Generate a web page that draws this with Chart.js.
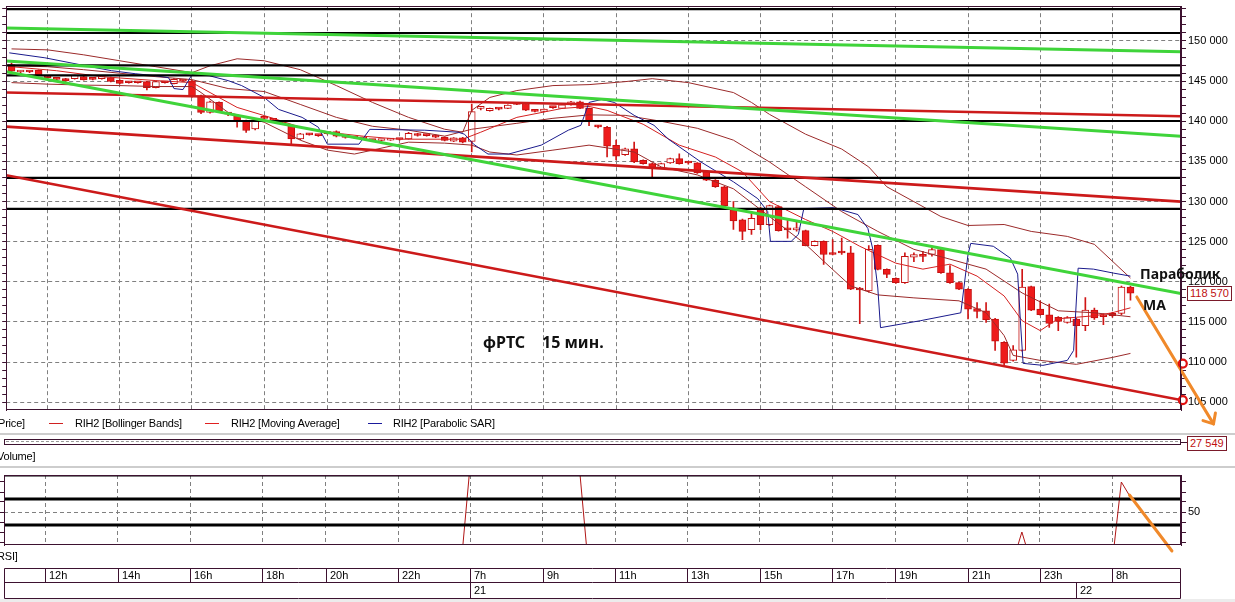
<!DOCTYPE html>
<html><head><meta charset="utf-8">
<script src="https://cdn.jsdelivr.net/npm/chart.js@4.4.1/dist/chart.umd.min.js"></script>
<style>
html,body{margin:0;padding:0;background:#fff;width:1235px;height:602px;overflow:hidden;position:relative;font-family:"Liberation Sans",Arial,sans-serif;}
.abs{position:absolute;white-space:nowrap;}
.t11{font-size:11px;line-height:14px;color:#000;letter-spacing:-0.2px;}
.ann{font-family:"Noto Sans",sans-serif;font-weight:bold;color:#111;line-height:18px;}
</style></head><body>
<canvas id="main" width="1235" height="440" style="position:absolute;left:0;top:0"></canvas>

<div class="abs t11" style="left:-2px;top:416px">Price]</div>
<div class="abs" style="left:49px;top:423px;width:14px;height:1px;background:#d02020"></div>
<div class="abs t11" style="left:75px;top:416px">RIH2 [Bollinger Bands]</div>
<div class="abs" style="left:205px;top:423px;width:14px;height:1px;background:#e02020"></div>
<div class="abs t11" style="left:231px;top:416px">RIH2 [Moving Average]</div>
<div class="abs" style="left:368px;top:423px;width:14px;height:1px;background:#1a1a9c"></div>
<div class="abs t11" style="left:393px;top:416px">RIH2 [Parabolic SAR]</div>
<div class="abs" style="left:0;top:433px;width:1235px;height:2px;background:#cdcdcd"></div>

<div class="abs" style="left:4px;top:439px;width:1175px;height:4px;border:1px solid #3d1230;"></div>
<div class="abs" style="left:6px;top:441px;width:1172px;height:0;border-top:1px dashed #999;"></div>
<div class="abs" style="left:1181px;top:442px;width:6px;height:1px;background:#3d1230"></div>
<div id="volBox" class="abs" style="left:1187px;top:436px;height:13px;line-height:13px;font-size:11px;color:#c01010;border:1px solid #7a1a2a;padding:0 2px;background:#fff"></div>
<div class="abs t11" style="left:-3px;top:449px">Volume]</div>
<div class="abs" style="left:0;top:466px;width:1235px;height:2px;background:#cdcdcd"></div>

<canvas id="rsi" width="1235" height="132" style="position:absolute;left:0;top:470px"></canvas>
<div class="abs t11" style="left:-3px;top:549px">RSI]</div>
<div class="abs" style="left:0;top:599px;width:1235px;height:3px;background:#ececec"></div>

<div id="lastBox" class="abs" style="left:1187px;top:286px;height:13px;line-height:13px;font-size:11px;color:#c01010;border:1px solid #7a1a2a;padding:0 2px;background:#fff"></div>

<div class="abs ann" style="left:483px;top:333px;font-size:16px">фРТС</div>
<div class="abs ann" style="left:542px;top:333px;font-size:16px">15 мин.</div>
<div class="abs ann" style="left:1140px;top:265px;font-size:14px">Параболик</div>
<div class="abs ann" style="left:1143px;top:296px;font-size:14px">MA</div>

<script>
// ---------------- DATA ----------------
const hourTickBars = [4,12,20,28,35,43,51,59,67,75,83,91,98,106,114,122];
const hourTickLabels = ['12h','14h','16h','18h','20h','22h','7h','9h','11h','13h','15h','17h','19h','21h','23h','8h'];
const dateTickBars = [51,118];
const dateTickLabels = ['21','22'];

const open = [147070,146130,146140,146330,145430,145220,145300,145300,145550,145220,145300,145430,145090,144830,144830,144930,144190,144830,144690,145040,
145020,143170,141100,142340,140900,140690,140080,139040,140400,140200,139800,139460,137800,138400,138220,138500,138710,138050,137930,137820,
137610,137600,137650,137760,137800,138420,138230,138220,138010,137520,137920,137480,141590,141310,141510,141600,142130,142210,141250,141220,
141720,141600,142050,142420,141600,139350,139250,136990,135820,136570,135130,134710,134180,134800,135330,134800,134800,133770,132660,131830,
128950,127720,126480,129080,127100,129360,126480,126470,126360,124500,125030,123590,123590,123590,118980,118850,124540,121540,120420,119880,
123060,123180,123390,124010,121120,119880,119060,116670,116380,115360,112460,110200,111440,119390,116590,115890,115560,114930,115350,114530,
116470,115850,116050,116050,119350];
const high = [147280,146300,146200,146400,145600,145300,145350,145750,145600,145300,145350,145500,145150,144900,144880,144980,145000,144900,145300,145100,
145100,143250,142500,142400,141100,140800,140150,140250,140500,140300,139900,139550,138500,138450,138300,138600,138800,138100,138000,137900,
137700,137700,137750,137800,138600,138500,138300,138300,138050,137950,137980,142130,141800,141650,141600,142050,142200,142300,141350,141550,
141800,142100,142480,142500,141650,139500,139350,137640,136650,137400,135200,134780,134780,135400,135950,134950,134850,133850,132720,131900,
129980,127800,128740,129300,129550,129450,127750,127500,126450,125100,125100,125240,125440,124420,119300,124500,124600,121600,120500,123590,
123590,123800,124200,124100,122000,119950,119150,117400,117410,115450,112550,112060,121540,119450,117620,117210,115650,115650,115450,118030,
116720,116000,116200,119450,119450];
const low = [146130,146000,146050,145650,145300,145150,144950,145250,145100,145150,145250,144900,144650,144750,144740,143910,144150,144750,144650,144950,
143000,140950,141000,141250,140700,139250,138600,138900,140200,140000,139650,137180,137700,138250,138100,138400,138050,137900,137850,137750,
137550,137550,137600,137650,137750,138150,138150,137950,137550,137450,137300,136160,141400,141250,141400,141550,142050,141300,141150,141150,
141600,141550,142000,141550,139460,139150,135540,135170,135750,134850,134650,133070,134100,134750,134650,134650,133500,132600,131750,129400,
126520,125240,125900,126500,127000,126300,125440,126300,124450,124450,122150,123350,123390,119000,114780,118700,121480,120500,119800,119800,
122500,122500,123200,121050,119800,119000,115360,115500,114930,111440,109600,110100,111350,116400,115850,114320,113910,114850,110610,113910,
115300,114650,115600,115900,117700];
const close = [146250,146140,146130,145710,145420,145210,145020,145710,145140,145210,145310,144970,144720,144790,144790,144190,144930,144790,145220,145000,
143080,141100,142420,141310,140880,140080,138840,140150,140360,140100,139750,137800,138420,138300,138200,138450,138140,137980,137910,137800,
137600,137620,137680,137720,138500,138220,138210,138010,137600,137920,137390,141190,141600,141600,141500,142000,142100,141390,141220,141510,
141700,142050,142420,141600,140080,139300,136900,135660,136570,134920,134710,134180,134710,135330,134710,134790,133560,132660,131830,129480,
127590,126270,127910,127100,129480,126360,126470,126480,124500,125030,123390,123390,123580,119060,118970,124040,121540,120920,119880,123180,
123390,123170,124010,121120,119880,119060,116590,116290,115270,112590,109870,111520,119350,116470,115890,114810,115060,115550,114530,116470,
115480,115640,115760,119350,118570];

// indicator lines: [bar, value]
const bbUpper = [[0,149010],[4,148890],[8,148270],[12,147530],[16,146790],[20,146050],[22,146910],[25,147780],[28,147530],[32,146420],[36,144440],[40,142340],[44,140480],[48,139000],[50,138630],[51,141350],[53,142960],[56,143820],[60,144440],[64,144560],[68,144930],[71,145300],[75,144810],[80,143570],[82,142340],[84,140850],[88,138380],[92,136530],[95,134300],[97,131830],[100,129980],[103,128120],[106,127010],[110,127130],[113,126270],[117,125650],[120,124660],[122,122560],[124,120460]];
const bbMiddle = [[0,146910],[4,146790],[8,146420],[12,145980],[16,145550],[20,145180],[24,144070],[28,143700],[32,142090],[36,140480],[40,139370],[44,138880],[48,138140],[51,139000],[56,139740],[60,140360],[64,140790],[68,140730],[72,139990],[76,139120],[80,137640],[84,134920],[88,131830],[92,128740],[96,126270],[100,124040],[104,122810],[108,121570],[112,118600],[116,116380],[120,116130],[124,115640]];
const bbLower = [[0,144810],[4,144620],[8,144500],[12,144440],[16,144320],[20,144320],[21,143570],[24,141100],[28,139870],[32,137640],[35,136400],[38,135910],[40,136400],[44,137390],[48,137270],[51,137020],[53,136160],[56,135790],[60,136400],[64,137020],[69,136160],[72,134300],[76,133310],[80,131580],[84,128120],[88,124660],[90,122560],[93,119470],[96,118360],[100,117990],[105,117620],[108,116130],[110,113290],[111,110820],[114,110200],[118,109710],[122,110570],[124,111070]];
const movingAvg = [[0,146790],[5,146290],[10,145550],[16,145060],[20,144810],[22,143570],[25,141720],[29,140360],[32,139250],[36,138510],[39,138130],[43,137760],[50,137760],[52,138630],[56,140480],[61,141590],[64,141840],[66,141350],[70,139620],[74,137020],[78,135540],[81,133680],[84,129980],[88,127750],[91,126270],[94,124420],[98,122310],[101,121570],[104,122190],[107,120700],[110,118230],[112,115140],[114,113910],[116,115390],[120,115760],[122,116140],[124,116750]];
const parabolicSar = [[-0.25,148520],[3.7,147900],[8.2,146910],[11.1,146290],[13.7,145920],[15.9,145670],[17.4,145430],[18,144070],[19,143940],[20,145800],[21.9,145670],[24,145060],[25.5,144440],[28,142960],[29.6,141470],[32.2,140480],[34,139250],[35,137140],[38.5,137140],[39.7,138990],[45.8,138880],[49.5,138630],[50.2,138380],[51.2,137140],[52.8,135910],[55.1,135910],[58.7,137020],[61.7,138880],[63.1,139490],[64,142340],[65.4,142710],[66.8,142340],[69,140730],[71.2,139490],[72.8,137760],[76.4,134920],[80,132450],[82.7,130350],[83.8,128740],[84.1,125030],[86.4,125030],[87.2,125900],[87.8,129110],[91.1,129230],[93.8,128370],[94.9,126640],[95.5,123800],[96,119220],[96.3,114280],[100.7,115140],[105.2,116130],[106,123420],[106.3,124780],[108.8,124420],[110.7,122930],[111.5,120950],[111.8,115140],[112.1,109830],[114.3,109580],[117,110200],[117.7,111440],[118.2,121690],[119.9,121570],[122.1,121080],[124,120700]];

const rsi = [0,0,0,0,0,0,0,0,0,0,0,0,0,0,0,0,0,0,0,0,0,0,0,0,0,0,0,0,0,0,0,0,0,0,0,0,0,0,0,0,0,0,0,0,0,0,0,0,0,0,0,
100,100,100,100,100,100,100,100,100,100,100,100,100,
0,0,0,0,0,0,0,0,0,0,0,0,0,0,0,0,0,0,0,0,0,0,0,0,0,0,0,0,0,0,0,0,0,0,0,0,0,0,0,0,0,0,0,0,0,0,0,0,
30,0,0,0,0,0,0,0,0,0,0,80,65];

// drawn lines: value at left edge, value at right edge
const greenTrendLines = [[151610,148640],[147490,138130],[146170,118540]];
const redTrendLines = [[143570,140610],[139330,129980],[133280,105260]];
const blackLevels = [153960,150990,146950,145710,140030,132940,129070];
const targetMarks = [[129.8,109800],[129.8,105260]];
const arrowMain = [[124.7,118110],[133.2,102290]];
const rsiLevels = [87,63,37];
const arrowRsi = [[123.9,67],[128.6,11]];
const lastPrice = 118570;
const lastVolume = 27549;

// ---------------- CHART ----------------
const X_MIN = -0.59, X_MAX = 129.6;
const P_MIN = 104020, P_MAX = 154330;
const R_MIN = 17, R_MAX = 87;
const FRAME = '#3d1230';
const GRID = '#808080';
const DASH = [4,3];
const FONT = '"Liberation Sans", Arial, sans-serif';
Chart.defaults.font.family = FONT;
Chart.defaults.font.size = 11;

function fmt(v){ return String(Math.round(v)).replace(/\B(?=(\d{3})+(?!\d))/g,' '); }
function xAxis(){
  return {type:'linear', min:X_MIN, max:X_MAX, offset:false,
    afterBuildTicks: s => { s.ticks = hourTickBars.map(v => ({value:v})); },
    ticks:{display:false},
    grid:{color:GRID, drawTicks:false, lineWidth:1, offset:false},
    border:{display:false, dash:DASH}};
}
function stepTicks(min, max, step){ return s => { const t=[]; for(let v=Math.ceil(min/step)*step; v<=max; v+=step) t.push({value:v}); s.ticks=t; }; }
function lineDS(label, pts, color, width, order, extra){
  return Object.assign({type:'line', label, data: pts.map(p => ({x:p[0], y:p[1]})), borderColor:color, borderWidth:width,
    pointRadius:0, pointHoverRadius:0, tension:0, fill:false, order, xAxisID:'x', yAxisID:'y'}, extra||{});
}
function spanDS(label, l, r, color, width, order, extra){ return lineDS(label, [[X_MIN,l],[X_MAX,r]], color, width, order, extra); }

const framePlugin = {id:'frame', afterDraw(chart){
  const a = chart.chartArea, ctx = chart.ctx; ctx.save(); ctx.strokeStyle = FRAME; ctx.lineWidth = 1;
  ctx.strokeRect(Math.round(a.left)+0.5, Math.round(a.top)+0.5, Math.round(a.right-a.left)-1, Math.round(a.bottom-a.top)-1);
  ctx.restore(); }};
const arrowPlugin = {id:'arrowheads', afterDatasetsDraw(chart){
  const ctx = chart.ctx;
  chart.data.datasets.forEach((ds,i) => {
    if(!ds.arrow) return;
    const pts = chart.getDatasetMeta(i).data; const a = pts[pts.length-2], b = pts[pts.length-1];
    const ang = Math.atan2(b.y-a.y, b.x-a.x), L = 11;
    ctx.save(); ctx.strokeStyle = ds.borderColor; ctx.lineWidth = ds.borderWidth; ctx.lineCap = 'round'; ctx.beginPath();
    [-0.72, 0.72].forEach(d => { ctx.moveTo(b.x, b.y); ctx.lineTo(b.x - L*Math.cos(ang+d), b.y - L*Math.sin(ang+d)); });
    ctx.stroke(); ctx.restore();
  }); }};
const timeAxisPlugin = {id:'timeaxis', afterDraw(chart){
  const ctx = chart.ctx, xs = chart.scales.x;
  const L = Math.round(chart.chartArea.left)+0.5, R = Math.round(chart.chartArea.right)-0.5;
  const r1 = 98.5, r2 = 112.5, r3 = 128.5;
  ctx.save(); ctx.strokeStyle = FRAME; ctx.lineWidth = 1; ctx.beginPath();
  [r1,r2,r3].forEach(y => { ctx.moveTo(L,y); ctx.lineTo(R,y); });
  ctx.moveTo(L,r1); ctx.lineTo(L,r3); ctx.moveTo(R,r1); ctx.lineTo(R,r3);
  hourTickBars.forEach(v => { const x = Math.round(xs.getPixelForValue(v))+0.5; ctx.moveTo(x,r1); ctx.lineTo(x,r2); });
  dateTickBars.forEach(v => { const x = Math.round(xs.getPixelForValue(v))+0.5; ctx.moveTo(x,r2); ctx.lineTo(x,r3); });
  ctx.stroke();
  ctx.fillStyle = '#000'; ctx.font = '11px ' + FONT; ctx.textBaseline = 'middle'; ctx.textAlign = 'left';
  hourTickBars.forEach((v,k) => { ctx.fillText(hourTickLabels[k], Math.round(xs.getPixelForValue(v))+4, (r1+r2)/2+0.5); });
  dateTickBars.forEach((v,k) => { ctx.fillText(dateTickLabels[k], Math.round(xs.getPixelForValue(v))+4, (r2+r3)/2+0.5); });
  ctx.restore(); }};

const mainDatasets = [
  {type:'bar', label:'wicks', data: open.map((o,i) => ({x:i, y:[low[i], high[i]]})), backgroundColor:'#d01515',
   barThickness:1, grouped:false, order:20, xAxisID:'x', yAxisID:'y'},
  {type:'bar', label:'bodies', data: open.map((o,i) => ({x:i, y:[Math.min(o,close[i]), Math.max(o,close[i])]})),
   backgroundColor: c => close[c.dataIndex] < open[c.dataIndex] ? '#ee1b1b' : '#ffffff',
   borderColor:'#c41010', borderWidth:1, borderSkipped:false, barThickness:7, minBarLength:2, grouped:false, order:19, xAxisID:'x', yAxisID:'y'},
  lineDS('BB upper', bbUpper, '#9b2a2a', 1, 10),
  lineDS('BB middle', bbMiddle, '#9b2a2a', 1, 10),
  lineDS('BB lower', bbLower, '#9b2a2a', 1, 10),
  lineDS('MA', movingAvg, '#d42020', 1, 9),
  lineDS('SAR', parabolicSar, '#1a1a8c', 1, 8),
];
blackLevels.forEach(v => mainDatasets.push(spanDS('level', v, v, '#000000', 2.2, 3)));
redTrendLines.forEach(p => mainDatasets.push(spanDS('red', p[0], p[1], '#cc1a1a', 2.6, 2)));
greenTrendLines.forEach(p => mainDatasets.push(spanDS('green', p[0], p[1], '#3fd43a', 3, 1)));
mainDatasets.push(lineDS('targets', targetMarks, '#e01010', 0, 0, {showLine:false, pointRadius:4, pointBorderWidth:2.2, pointBorderColor:'#e01010', pointBackgroundColor:'#ffffff', clip:false}));
mainDatasets.push(lineDS('arrow', arrowMain, '#f0892a', 3, 0, {clip:false, arrow:true, borderCapStyle:'round'}));

const mainChart = new Chart(document.getElementById('main'), {
  type:'bar',
  data:{datasets: mainDatasets},
  options:{responsive:false, animation:false, devicePixelRatio:1, events:[],
    layout:{padding:{top:3, bottom:30, left:0, right:0}},
    plugins:{legend:{display:false}, tooltip:{enabled:false}},
    scales:{
      x: xAxis(),
      y: {type:'linear', position:'right', min:P_MIN, max:P_MAX,
        afterBuildTicks: stepTicks(P_MIN, P_MAX, 1000),
        afterFit: s => { s.width = 54; s.paddingTop = 0; s.paddingBottom = 0; },
        ticks:{autoSkip:false, padding:2, color:'#000', font:{family:FONT, size:11}, callback: v => v % 5000 === 0 ? fmt(v) : ''},
        grid:{color: c => (c.tick && c.tick.value % 5000 === 0) ? GRID : 'rgba(0,0,0,0)', tickLength:5, tickColor:FRAME, tickBorderDash:[0,0], tickWidth:1, lineWidth:1},
        border:{display:true, color:FRAME, width:1, dash:DASH}},
      yl: {type:'linear', position:'left', min:P_MIN, max:P_MAX,
        afterBuildTicks: stepTicks(P_MIN, P_MAX, 1000),
        afterFit: s => { s.width = 4; s.paddingTop = 0; s.paddingBottom = 0; },
        ticks:{display:false},
        grid:{drawOnChartArea:false, tickLength:4, tickColor:FRAME, color:FRAME},
        border:{display:true, color:FRAME, width:1}}
    }},
  plugins:[framePlugin, arrowPlugin]
});

const rsiDatasets = [lineDS('RSI', rsi.map((v,i) => [i,v]), '#b01515', 1, 5)];
rsiLevels.forEach(v => rsiDatasets.push(spanDS('rsiLevel', v, v, '#000000', 3, 3)));
rsiDatasets.push(lineDS('arrowRsi', arrowRsi, '#f0892a', 3, 0, {clip:false, borderCapStyle:'round'}));

const rsiChart = new Chart(document.getElementById('rsi'), {
  type:'line',
  data:{datasets: rsiDatasets},
  options:{responsive:false, animation:false, devicePixelRatio:1, events:[],
    layout:{padding:{top:5, bottom:57, left:0, right:0}},
    plugins:{legend:{display:false}, tooltip:{enabled:false}},
    scales:{
      x: xAxis(),
      y: {type:'linear', position:'right', min:R_MIN, max:R_MAX,
        afterBuildTicks: stepTicks(20, 80, 10),
        afterFit: s => { s.width = 54; s.paddingTop = 0; s.paddingBottom = 0; },
        ticks:{autoSkip:false, padding:2, color:'#000', font:{family:FONT, size:11}, callback: v => v === 50 ? '50' : ''},
        grid:{color: c => (c.tick && c.tick.value === 50) ? GRID : 'rgba(0,0,0,0)', tickLength:5, tickColor:FRAME, tickBorderDash:[0,0], tickWidth:1, lineWidth:1},
        border:{display:true, color:FRAME, width:1, dash:DASH}},
      yl: {type:'linear', position:'left', min:R_MIN, max:R_MAX,
        afterBuildTicks: stepTicks(20, 80, 10),
        afterFit: s => { s.width = 4; s.paddingTop = 0; s.paddingBottom = 0; },
        ticks:{display:false},
        grid:{drawOnChartArea:false, tickLength:4, tickColor:FRAME, color:FRAME},
        border:{display:true, color:FRAME, width:1}}
    }},
  plugins:[framePlugin, timeAxisPlugin]
});

const lb = document.getElementById('lastBox');
lb.textContent = fmt(lastPrice);
lb.style.top = (Math.round(mainChart.scales.y.getPixelForValue(lastPrice)) - 7) + 'px';
document.getElementById('volBox').textContent = fmt(lastVolume);
</script>
</body></html>
